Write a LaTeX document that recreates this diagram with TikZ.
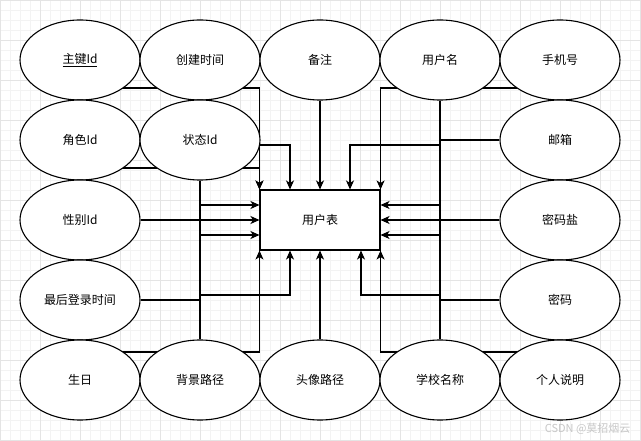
\documentclass[tikz,border=0pt]{standalone}
\usepackage{fontspec}
\setmainfont{Noto Sans CJK SC}
\usetikzlibrary{shapes.geometric,arrows.meta}
\pgfdeclarelayer{grid}
\pgfdeclarelayer{edges}
\pgfsetlayers{grid,edges,main}
\definecolor{gridminor}{HTML}{F3F3F3}
\definecolor{gridmajor}{HTML}{E4E4E4}

\begin{document}
\begin{tikzpicture}[x=1pt, y=-1pt,
  attr/.style={ellipse, draw, line width=1.1pt, fill=white, minimum width=120pt, minimum height=80pt, inner sep=0pt, font=\fontsize{12}{14}\selectfont},
  tbl/.style={rectangle, draw, line width=1.1pt, fill=white, minimum width=120pt, minimum height=60pt, inner sep=0pt, font=\fontsize{12}{14}\selectfont},
  link/.style={line width=1.1pt, -{Stealth[length=9pt,width=8pt,inset=2.5pt]}}]
\useasboundingbox (0,0) rectangle (641,441);
% grid paper
\begin{pgfonlayer}{grid}
\fill[white] (0,0) rectangle (641,441);
\foreach \g in {0,10,...,640} \draw[gridminor, line width=0.9pt] (\g,0) -- (\g,441);
\foreach \g in {0,10,...,440} \draw[gridminor, line width=0.9pt] (0,\g) -- (641,\g);
\foreach \g in {0,40,...,640} \draw[gridmajor, line width=0.9pt] (\g,0) -- (\g,441);
\foreach \g in {0,40,...,440} \draw[gridmajor, line width=0.9pt] (0,\g) -- (641,\g);
\end{pgfonlayer}
% Table in the middle
\node[tbl] (table) at (320,220) {用户表};
% Row 1
\node[attr] (zhujian) at (80,60) {\underline{主键Id}};
\node[attr] (chuangjian) at (200,60) {创建时间};
\node[attr] (beizhu) at (320,60) {备注};
\node[attr] (yonghuming) at (440,60) {用户名};
\node[attr] (shouji) at (560,60) {手机号};
% Rows 2-4
\node[attr] (juese) at (80,140) {角色Id};
\node[attr] (zhuangtai) at (200,140) {状态Id};
\node[attr] (youxiang) at (560,140) {邮箱};
\node[attr] (xingbie) at (80,220) {性别Id};
\node[attr] (mimayan) at (560,220) {密码盐};
\node[attr] (zuihou) at (80,300) {最后登录时间};
\node[attr] (mima) at (560,300) {密码};
% Row 5
\node[attr] (shengri) at (80,380) {生日};
\node[attr] (beijing) at (200,380) {背景路径};
\node[attr] (touxiang) at (320,380) {头像路径};
\node[attr] (xuexiao) at (440,380) {学校名称};
\node[attr] (geren) at (560,380) {个人说明};
\node[anchor=east, text=black!22, font=\fontsize{11}{13}\selectfont] (csdn) at (634,429) {CSDN @莫招烟云};
% Connectors (under the ellipses)
\begin{pgfonlayer}{edges}
\draw[link] ([yshift=-28pt]zhujian.center) -| (table.north west);
\draw[link] ([yshift=-28pt]juese.center) -| (table.north west);
\draw[link] (chuangjian) |- (290,145) -- ([xshift=-30pt]table.north);
\draw[link] (beizhu) -- (table.north);
\draw[link] (youxiang) -| (440,145) -| ([xshift=30pt]table.north);
\draw[link] ([yshift=-28pt]shouji.center) -| (table.north east);
\draw[link] (zhuangtai) |- ([yshift=-15pt]table.west);
\draw[link] (xingbie) -- (table.west);
\draw[link] (beijing) |- ([yshift=15pt]table.west);
\draw[link] (yonghuming) |- ([yshift=-15pt]table.east);
\draw[link] (mimayan) -- (table.east);
\draw[link] (xuexiao) |- ([yshift=15pt]table.east);
\draw[link] ([yshift=28pt]shengri.center) -| (table.south west);
\draw[link] (zuihou) -| (200,295) -| ([xshift=-30pt]table.south);
\draw[link] (touxiang) -- (table.south);
\draw[link] (mima) -| (440,295) -| ([xshift=41pt]table.south);
\draw[link] ([yshift=28pt]geren.center) -| (table.south east);
\end{pgfonlayer}
\end{tikzpicture}
\end{document}
